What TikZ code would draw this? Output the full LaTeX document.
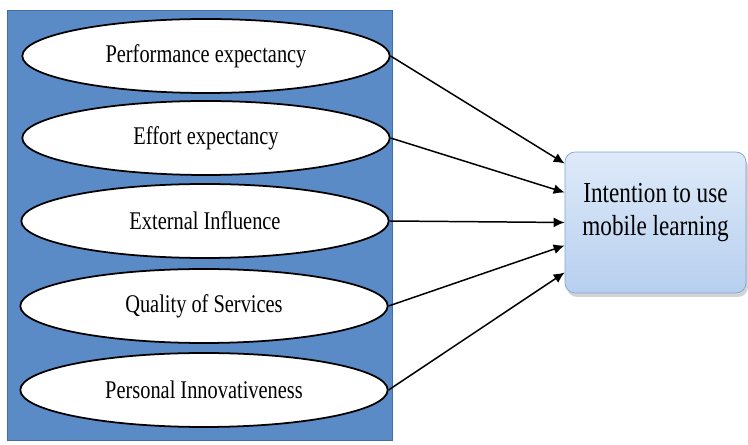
\documentclass[tikz,border=0pt]{standalone}
\usepackage{fontspec}
\setmainfont{Liberation Serif}[FakeStretch=0.8]
\usetikzlibrary{positioning, arrows.meta, shapes.geometric, shadows}
\definecolor{panelblue}{HTML}{5B8BC6}
\definecolor{paneledge}{HTML}{3E6DA6}
\definecolor{boxedge}{HTML}{7FA3D4}
\definecolor{boxtop}{HTML}{DEEAF9}
\definecolor{boxbottom}{HTML}{B7CFEF}

\begin{document}
\begin{tikzpicture}[
        x=0.02cm, y=-0.02cm,
        >={Latex[length=2.2mm, width=2mm]},
        % Styles
        panel/.style={% For the blue background
            rectangle,
            draw=paneledge,
            fill=panelblue,
            thin,
            },
        factor/.style={% For the factors
            ellipse,
            draw,
            fill=white,
            line width=1pt,
            minimum width=7.35cm,
            minimum height=1.48cm,
            inner sep=0pt,
            font=\fontsize{14.5}{16}\selectfont,
            },
        outcome/.style={% For the dependent variable
            rectangle,
            rounded corners=2mm,
            draw=boxedge,
            top color=boxtop,
            bottom color=boxbottom,
            drop shadow={opacity=0.35, shadow xshift=0.4mm, shadow yshift=-0.8mm},
            minimum width=3.62cm,
            minimum height=2.82cm,
            },
        ArrowC1/.style={% Arrows into the box
            ->,
            line width=0.85pt,
            },
        ]
    \useasboundingbox (0,0) rectangle (748,445);

    % Nodes
        % Draw the background
        \node [panel, minimum width=7.7cm, minimum height=8.6cm] (back) at (199.5,225) {};

        % Draw factors named as basis
        \node [factor] (perf)  at (206,56)  {Performance expectancy};
        \node [factor] (effort) at (206,138) {Effort expectancy};
        \node [factor] (extern) at (205,221) {External Influence};
        \node [factor] (qual)  at (204,306) {Quality of Services};
        \node [factor] (innov) at (204,390) {Personal Innovativeness};

        % Draw the outcome
        \node [outcome, label={[align=center, yshift=0.2cm, font=\fontsize{16.5}{19.3}\selectfont]center:Intention to use\\mobile learning}] (intent) at (655.5,222.5) {};

    % Connect all
        \draw [ArrowC1] (perf.east)   -- ([yshift=1.18cm]intent.west);
        \draw [ArrowC1] (effort.east) -- ([yshift=0.6cm]intent.west);
        \draw [ArrowC1] (extern.east) -- (intent.west);
        \draw [ArrowC1] (qual.east)   -- ([yshift=-0.46cm]intent.west);
        \draw [ArrowC1] (innov.east)  -- ([yshift=-1cm]intent.west);

    \end{tikzpicture}
\end{document}
